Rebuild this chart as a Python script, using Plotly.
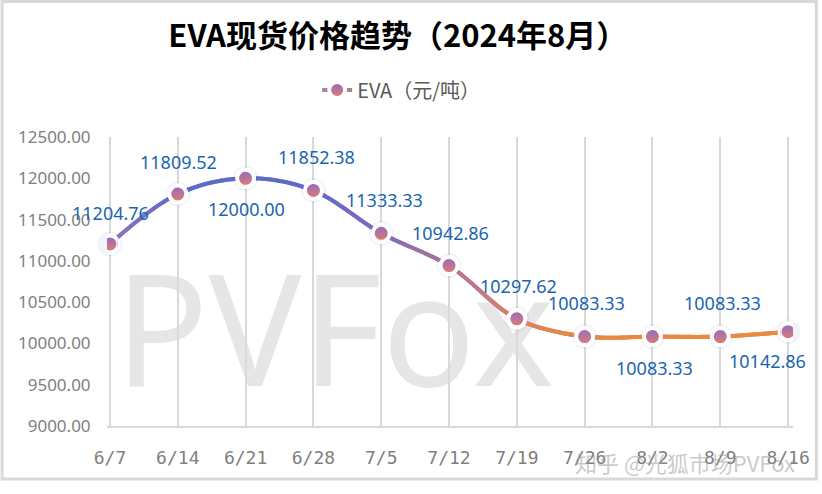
import plotly.graph_objects as go

# ---------------- data ----------------
categories = ["6/7", "6/14", "6/21", "6/28", "7/5", "7/12", "7/19", "7/26", "8/2", "8/9", "8/16"]
prices = [11204.76, 11809.52, 12000.00, 11852.38, 11333.33, 10942.86,
          10297.62, 10083.33, 10083.33, 10083.33, 10142.86]
y_ticks = [9000, 9500, 10000, 10500, 11000, 11500, 12000, 12500]
series_name = "EVA（元/吨）"
title_text = "EVA现货价格趋势（2024年8月）"

# ---------------- style ----------------
W, H = 822, 494
ML, MR, MT, MB = 107, 25, 137, 68
PW, PH = W - ML - MR, H - MT - MB
X_RANGE = [-0.044, 10.073]
Y_RANGE = [9000, 12500]

# label offsets (pixels) relative to each point
label_dx = [1, 1, 1, 3, 3, 1, 2, 2, 2, 2, -21]
label_dy = [31, 32, -31, 33, 33, 33, 33, 34, -31, 34, -29]

grad_stops = [(0.0, "#9371BA"), (1.0, "#5E6CC8"), (3.0, "#5B6BC8"), (4.0, "#7C6CBF"),
              (5.0, "#AE7399"), (6.0, "#DB8163"), (6.7, "#EA873F"), (10.0, "#EC8A3C")]


def hex2rgb(h):
    h = h.lstrip("#")
    return tuple(int(h[i:i + 2], 16) for i in (0, 2, 4))


def color_at(t):
    if t <= grad_stops[0][0]:
        return grad_stops[0][1]
    for (a, ca), (b, cb) in zip(grad_stops[:-1], grad_stops[1:]):
        if a <= t <= b:
            f = (t - a) / (b - a) if b > a else 0
            r1, g1, b1 = hex2rgb(ca)
            r2, g2, b2 = hex2rgb(cb)
            return "rgb(%d,%d,%d)" % (round(r1 + (r2 - r1) * f), round(g1 + (g2 - g1) * f),
                                      round(b1 + (b2 - b1) * f))
    return grad_stops[-1][1]


marker_style = dict(size=17, color="#8E6CC6",
                    gradient=dict(type="vertical", color="#E57C6A"),
                    line=dict(color="white", width=4))

idx = list(range(len(categories)))
fig = go.Figure()

# soft shadow under markers
fig.add_trace(go.Scatter(x=idx, y=prices, mode="markers",
                         marker=dict(size=25, color="rgba(90,100,190,0.07)"),
                         cliponaxis=False, showlegend=False, hoverinfo="skip"))
# legend carrier (covered by gradient bands)
fig.add_trace(go.Scatter(x=idx, y=prices, mode="lines+markers", name=series_name,
                         line=dict(shape="spline", color="#A8849A", width=4),
                         marker=marker_style, showlegend=True, hoverinfo="skip"))

# gradient line: same curve drawn in narrow clipped bands
N = 60
eps = 0.0012
span = X_RANGE[1] - X_RANGE[0]
layout_axes = {}
for k in range(N):
    d0 = max(0.0, k / N - eps)
    d1 = min(1.0, (k + 1) / N + eps)
    r0 = X_RANGE[0] + span * d0
    r1 = X_RANGE[0] + span * d1
    col = color_at(X_RANGE[0] + span * (k + 0.5) / N)
    ax = "xaxis%d" % (k + 2)
    layout_axes[ax] = dict(domain=[d0, d1], range=[r0, r1], visible=False,
                           anchor="y", fixedrange=True)
    fig.add_trace(go.Scatter(x=idx, y=prices, xaxis="x%d" % (k + 2), yaxis="y",
                             mode="lines+markers",
                             line=dict(shape="spline", color=col, width=4),
                             marker=marker_style, showlegend=False, hoverinfo="skip"))

fig.update_layout(**layout_axes)

# data labels
for i, v in enumerate(prices):
    fig.add_annotation(x=idx[i], y=v, xref="x", yref="y", text="%.2f" % v,
                       showarrow=False, xshift=label_dx[i], yshift=label_dy[i],
                       font=dict(family="Noto Sans", size=18, color="#1B65AE"))

fig.update_layout(
    width=W, height=H,
    margin=dict(l=ML, r=MR, t=MT, b=MB),
    paper_bgcolor="white", plot_bgcolor="rgba(0,0,0,0)",
    title=dict(text=title_text, x=0.484, xanchor="center", y=1 - 36 / H, yanchor="middle",
               yref="container",
               font=dict(family="Noto Sans CJK SC", size=31, color="black", weight="bold")),
    legend=dict(orientation="h", x=0.488, xanchor="center", y=1 - 90 / H, yanchor="middle",
                xref="container", yref="container",
                font=dict(family="Noto Sans CJK SC", size=20, color="#595959"),
                itemwidth=30),
    xaxis=dict(range=X_RANGE, tickvals=idx, ticktext=categories, showgrid=True,
               gridcolor="#D9D9D9", gridwidth=1.5, showline=True, linecolor="#D9D9D9",
               linewidth=2, zeroline=False, ticks="outside", ticklen=14,
               tickcolor="rgba(0,0,0,0)", fixedrange=True,
               tickfont=dict(family="DejaVu Sans Mono", size=18, color="#808080")),
    yaxis=dict(range=Y_RANGE, tickvals=y_ticks, tickformat=".2f", showgrid=False,
               zeroline=False, showline=False, ticks="outside", ticklen=12,
               tickcolor="rgba(0,0,0,0)", fixedrange=True,
               tickfont=dict(family="Noto Sans", size=17, color="#7F7F7F")),
    showlegend=True,
)

# big watermark behind the data
cx, cy = 336, 336
fig.add_shape(type="rect", xref="paper", yref="paper",
              x0=(cx - 230 - ML) / PW, x1=(cx + 230 - ML) / PW,
              y0=1 - (cy + 75 - MT) / PH, y1=1 - (cy - 75 - MT) / PH,
              line=dict(width=0), fillcolor="rgba(0,0,0,0)", layer="below",
              label=dict(text="PVFox", textposition="middle center",
                         font=dict(family="Noto Sans", size=155, color="#E6E6E6")))

# outer frame
fig.add_shape(type="rect", xref="paper", yref="paper",
              x0=(1.5 - ML) / PW, x1=(820.5 - ML) / PW,
              y0=1 - (479 - MT) / PH, y1=1 - (1.5 - MT) / PH,
              line=dict(color="#D9D9D9", width=3), fillcolor="rgba(0,0,0,0)", layer="below")

# corner watermark
fig.add_annotation(xref="paper", yref="paper", x=(801 - ML) / PW, y=1 - (462 - MT) / PH,
                   xanchor="right", yanchor="middle", showarrow=False,
                   text="知乎 @光狐市场PVFox",
                   font=dict(family="Noto Sans CJK SC", size=22, color="rgba(150,150,150,0.5)"))

fig.write_html("out.html")
